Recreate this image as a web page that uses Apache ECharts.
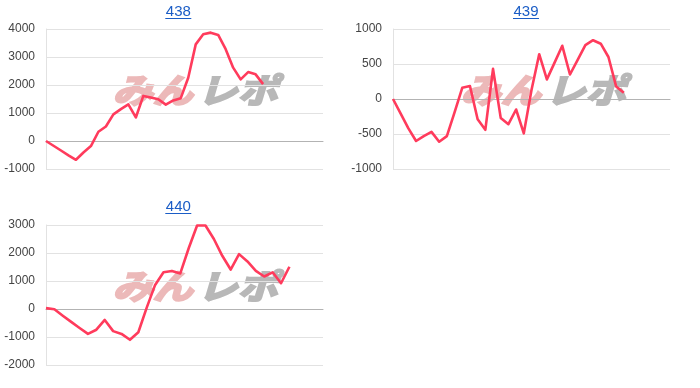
<!DOCTYPE html>
<html>
<head>
<meta charset="utf-8">
<script src="https://cdn.jsdelivr.net/npm/echarts@6/dist/echarts.min.js"></script>
<style>
html,body{margin:0;padding:0;background:#fff;}
#main{width:700px;height:388px;}
</style>
</head>
<body>
<div id="main"></div>
<script>
// Titles (machine numbers)
const titles = ['438', '439', '440'];
// Series values (difference in medals), one point per sample
const s438 = [0,-170,-340,-510,-670,-410,-180,330,520,950,1140,1310,840,1610,1550,1490,1300,1450,1530,2260,3450,3810,3870,3790,3280,2620,2200,2460,2380,2030];
const s439 = [0,-210,-420,-600,-530,-470,-610,-530,-190,160,185,-290,-440,430,-270,-360,-150,-490,130,640,280,520,760,350,560,770,840,790,600,180,90];
const s440 = [30,-10,-240,-460,-680,-890,-740,-390,-790,-890,-1100,-830,50,860,1310,1360,1270,2170,2980,2980,2500,1900,1410,1960,1700,1360,1160,1310,920,1510];
// Y axis ranges / tick steps
const yMin = [-1000, -1000, -2000];
const yMax = [4000, 1000, 3000];
const yStep = [1000, 500, 1000];
// X extent (sample slots shown on the axis)
const xMax = [37, 36, 33];
const seriesData = [s438, s439, s440];

const RED = '#ff3b5c';
const LINK = '#1b5dc6';
const FONT = 'Arial, "Liberation Sans", sans-serif';

const grids = [
  {left: 46, top: 29, width: 277, height: 140},
  {left: 393, top: 29, width: 277, height: 140},
  {left: 46, top: 225, width: 277, height: 140}
];
const titlePos = [{x: 178.3, y: 11.8, u: 18.5}, {x: 526, y: 11.8, u: 18.5}, {x: 178.3, y: 207, u: 213.5}];

const chart = echarts.init(document.getElementById('main'), null, {renderer: 'canvas'});

function watermark(cx, cy) {
  const font = 'italic bold 34px "Noto Sans CJK JP"';
  return {
    type: 'group', x: cx, y: cy, scaleX: 1.18, z: 0, silent: true,
    children: [
      {type: 'text', x: -1, y: 0, style: {text: 'みん', font: font, fill: '#ecb9b9', stroke: '#ecb9b9', lineWidth: 2.2, align: 'right', verticalAlign: 'middle'}},
      {type: 'text', x: 3, y: 0, style: {text: 'レポ', font: font, fill: '#b8b8b8', stroke: '#b8b8b8', lineWidth: 2.2, align: 'left', verticalAlign: 'middle'}}
    ]
  };
}
function titleText(i) {
  const p = titlePos[i];
  return {
    type: 'group', silent: true,
    children: [
      {type: 'text', x: p.x, y: p.y, style: {text: titles[i], font: '15px ' + FONT, fill: LINK, align: 'center', verticalAlign: 'middle'}},
      {type: 'line', shape: {x1: p.x - 13, y1: p.u, x2: p.x + 13, y2: p.u}, style: {stroke: LINK, lineWidth: 1}}
    ]
  };
}

const option = {
  animation: false,
  backgroundColor: '#fff',
  grid: grids,
  xAxis: grids.map((g, i) => ({
    gridIndex: i, type: 'value', min: 0, max: xMax[i],
    axisLine: {show: true, onZero: true, lineStyle: {color: '#b3b3b3', width: 1}},
    axisTick: {show: false}, axisLabel: {show: false}, splitLine: {show: false}
  })),
  yAxis: grids.map((g, i) => ({
    gridIndex: i, type: 'value', min: yMin[i], max: yMax[i], interval: yStep[i],
    axisLine: {show: true, lineStyle: {color: '#e2e2e2'}},
    axisTick: {show: false},
    axisLabel: {margin: 11, color: '#444', fontSize: 12, fontFamily: FONT, formatter: v => String(v)},
    splitLine: {show: true, lineStyle: {color: '#e2e2e2', width: 1}}
  })),
  series: seriesData.map((arr, i) => ({
    type: 'line', xAxisIndex: i, yAxisIndex: i,
    data: arr.map((v, k) => [k, v]),
    showSymbol: false, symbol: 'none', z: 5,
    lineStyle: {color: RED, width: 2.6, join: 'round'}
  })),
  graphic: [
    watermark(194, 90),
    watermark(542, 90),
    watermark(194, 286),
    titleText(0), titleText(1), titleText(2)
  ]
};
chart.setOption(option);
</script>
</body>
</html>
